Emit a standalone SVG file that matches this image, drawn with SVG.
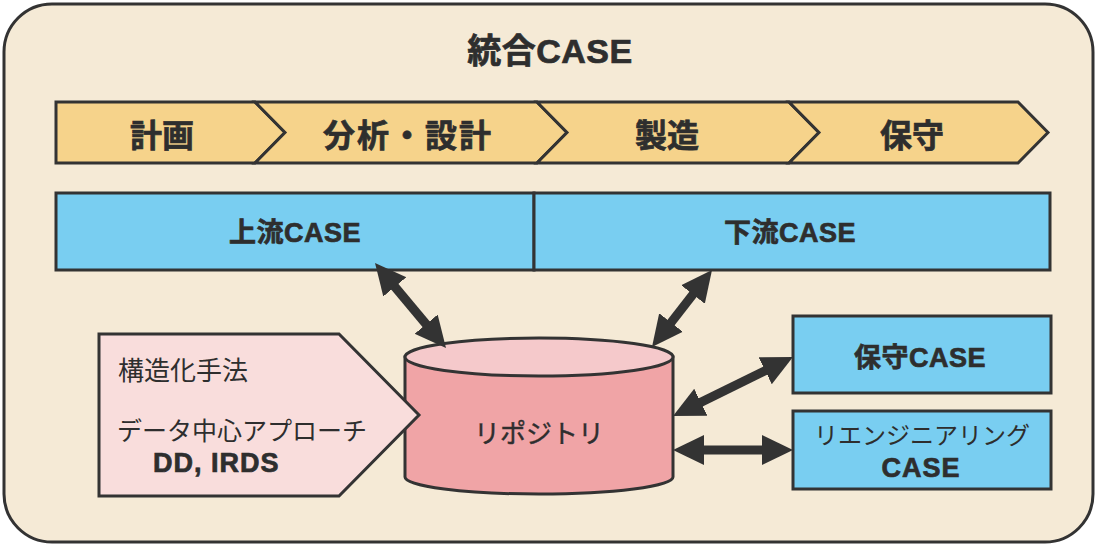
<svg xmlns="http://www.w3.org/2000/svg" width="1100" height="548" viewBox="0 0 1100 548">
  <style>
    .stk { stroke: #333; stroke-width: 3; stroke-linejoin: miter; }
    .chev { fill: #F6D38B; }
    .blue { fill: #79CEF1; }
    .t { font-family: "Liberation Sans", "Noto Sans CJK JP", sans-serif; fill: #2E2E2E; }
    .b { font-weight: 700; stroke: #2E2E2E; stroke-width: 0.7; }
    .m { stroke: #2E2E2E; stroke-width: 0.4; }
    .mid { text-anchor: middle; }
    .arrow { stroke: #333; stroke-width: 9; fill: none; marker-start: url(#ah); marker-end: url(#ah); }
  </style>
  <defs>
    <marker id="ah" markerUnits="userSpaceOnUse" markerWidth="32" markerHeight="32" viewBox="0 0 32 32" refX="16" refY="16" orient="auto-start-reverse">
      <path d="M0,1 L31,16 L0,31 z" fill="#333"/>
    </marker>
  </defs>

  <g id="frame">
    <rect x="4" y="4" width="1089" height="538" rx="48" ry="48" fill="#F5EAD6" class="stk"/>
    <text class="t b mid" x="550" y="63" font-size="34" letter-spacing="0.5">統合CASE</text>
  </g>

  <g id="phase-plan">
    <polygon class="chev stk" points="56,102 255,102 285,132.5 255,163 56,163"/>
    <text class="t b mid" x="162" y="147" font-size="32">計画</text>
  </g>
  <g id="phase-design">
    <polygon class="chev stk" points="255,102 537,102 567,132.5 537,163 255,163 285,132.5"/>
    <text class="t b mid" x="408" y="147" font-size="32" letter-spacing="2">分析・設計</text>
  </g>
  <g id="phase-build">
    <polygon class="chev stk" points="537,102 789,102 819,132.5 789,163 537,163 567,132.5"/>
    <text class="t b mid" x="667" y="147" font-size="32">製造</text>
  </g>
  <g id="phase-maint">
    <polygon class="chev stk" points="789,102 1018,102 1048,132.5 1018,163 789,163 819,132.5"/>
    <text class="t b mid" x="912" y="147" font-size="32">保守</text>
  </g>

  <g id="upper-case">
    <rect class="blue stk" x="56" y="193" width="478" height="77"/>
    <text class="t b mid" x="295" y="242" font-size="27" letter-spacing="0.5">上流CASE</text>
  </g>
  <g id="lower-case">
    <rect class="blue stk" x="534" y="193" width="516" height="77"/>
    <text class="t b mid" x="790" y="242" font-size="27" letter-spacing="0.5">下流CASE</text>
  </g>

  <g id="repository">
    <path d="M405,357 L405,477 A134,17 0 0 0 673,477 L673,357 Z" fill="#F0A4A6" class="stk"/>
    <ellipse cx="539" cy="357" rx="134" ry="19" fill="#F5C9CB" class="stk"/>
    <text class="t m mid" x="539" y="443" font-size="26">リポジトリ</text>
  </g>

  <g id="methods">
    <polygon points="99,334 339,334 419,415 339,496 99,496" fill="#F9DDDC" class="stk"/>
    <text class="t" x="118" y="380" font-size="26">構造化手法</text>
    <text class="t" x="117" y="440" font-size="25">データ中心アプローチ</text>
    <text class="t b" x="153" y="472" font-size="27" letter-spacing="1">DD, IRDS</text>
  </g>

  <g id="maint-case">
    <rect class="blue stk" x="793" y="316" width="258" height="77"/>
    <text class="t b mid" x="920" y="367" font-size="27" letter-spacing="0.5">保守CASE</text>
  </g>
  <g id="reeng-case">
    <rect class="blue stk" x="793" y="411" width="258" height="78"/>
    <text class="t mid" x="922" y="444" font-size="24">リエンジニアリング</text>
    <text class="t b mid" x="921" y="477" font-size="27" letter-spacing="1">CASE</text>
  </g>

  <g id="connectors">
    <path class="arrow" d="M384.6,274.5 L436.4,336.5"/>
    <path class="arrow" d="M702.8,281.8 L661.2,335.2"/>
    <path class="arrow" d="M686.5,409.4 L779.5,363.6"/>
    <path class="arrow" d="M688,450 L778,450"/>
  </g>
</svg>
